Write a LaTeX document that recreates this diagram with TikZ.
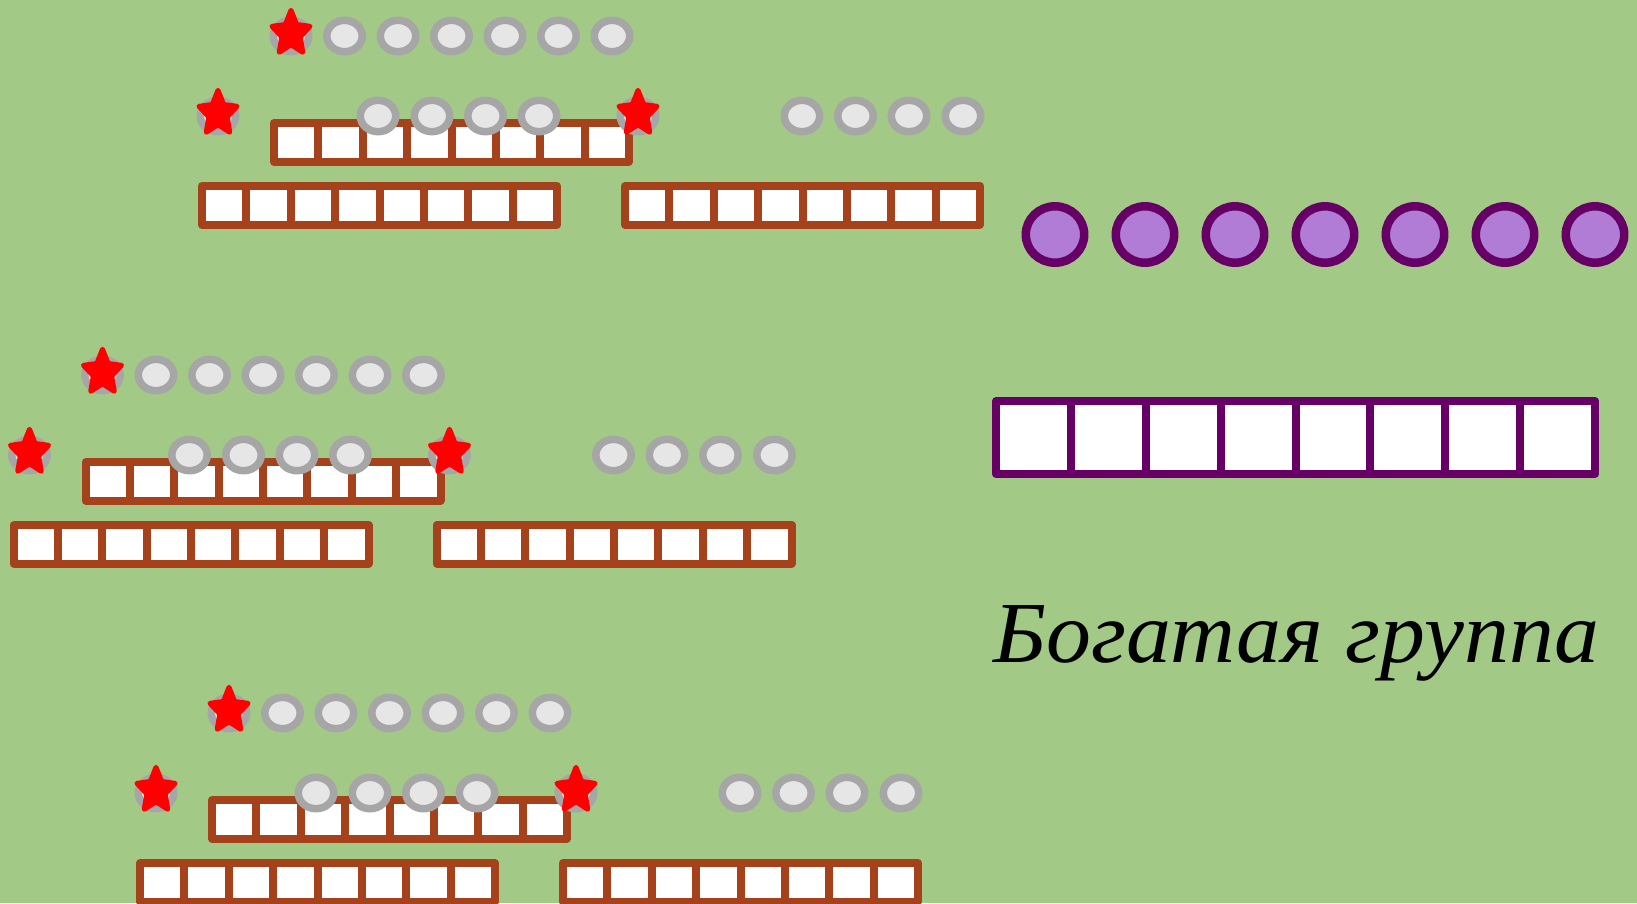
\documentclass[tikz,border=0pt]{standalone}
\usepackage{fontspec}
\newfontfamily\cyrfont{Liberation Serif}
\definecolor{bg}{HTML}{A3C986}
\definecolor{brn}{HTML}{A5421B}
\definecolor{gstroke}{HTML}{A6A6A6}
\definecolor{gfill}{HTML}{E6E6E6}
\definecolor{pstroke}{HTML}{660066}
\definecolor{pfill}{HTML}{B07CD6}
\tikzset{
  gcirc/.style={draw=gstroke, fill=gfill, line width=7.5pt},
  pcirc/.style={draw=pstroke, fill=pfill, line width=8.5pt},
  redstar/.style={fill=red, draw=red, line width=5pt, line join=round},
  brownbar/.style={draw=brn, fill=white, line width=8pt, line join=round},
  brownline/.style={draw=brn, line width=8pt},
  purplebar/.style={draw=pstroke, fill=white, line width=8pt, line join=round},
  purpleline/.style={draw=pstroke, line width=8pt},
}
\newcommand\grayc[2]{\draw[gcirc] (#1,#2) ellipse [x radius=17.7, y radius=15.7];}
\newcommand\redst[2]{%
  \draw[gcirc] (#1,#2) ellipse [x radius=17.7, y radius=15.7];
  \begin{scope}[shift={(#1,#2-2.5)}, xscale=20, yscale=23.2]
    \filldraw[redstar] (-90:1) -- (-54:0.48) -- (-18:1) -- (18:0.48) -- (54:1) -- (90:0.48) -- (126:1) -- (162:0.48) -- (198:1) -- (234:0.48) -- cycle;
  \end{scope}}
\newcommand\bbar[2]{%
  \draw[brownbar] (#1+4,#2+4) rectangle (#1+359,#2+42.5);
  \foreach \k in {1,...,7} {\draw[brownline] (#1+4+44.375*\k,#2+4) -- (#1+4+44.375*\k,#2+42.5);}}
\newcommand\group{%
  \bbar{270}{119}
  \bbar{198}{182}
  \bbar{621}{182}
  \foreach \x in {344.5,398,451.5,505,558.5,612} {\grayc{\x}{36}}
  \redst{291}{36}
  \foreach \x in {378,432,485.5,539} {\grayc{\x}{116}}
  \redst{218}{116}
  \redst{638}{116}
  \foreach \x in {802,855.5,909,963} {\grayc{\x}{116}}}
\begin{document}
\begin{tikzpicture}[x=1pt,y=-1pt]
  \useasboundingbox (0,0) rectangle (1637,903);
  \clip (0,0) rectangle (1637,903);
  \fill[bg] (0,0) rectangle (1637,903);
  \begin{scope}\group\end{scope}
  \begin{scope}[shift={(-188.5,339)}]\group\end{scope}
  \begin{scope}[shift={(-62,677)}]\group\end{scope}
  % purple circles
  \foreach \k in {0,...,6} {\draw[pcirc] (1055+90*\k,234.5) ellipse [x radius=29.2, y radius=28.2];}
  % purple bar
  \draw[purplebar] (996,401) rectangle (1595,474);
  \foreach \k in {1,...,7} {\draw[purpleline] (996+74.875*\k,401) -- (996+74.875*\k,474);}
  \node[anchor=base west, inner sep=0pt, font=\cyrfont\itshape\fontsize{87}{87}\selectfont] (title) at (993,662) {\scalebox{1.032}[1]{Богатая группа}};
\end{tikzpicture}
\end{document}
